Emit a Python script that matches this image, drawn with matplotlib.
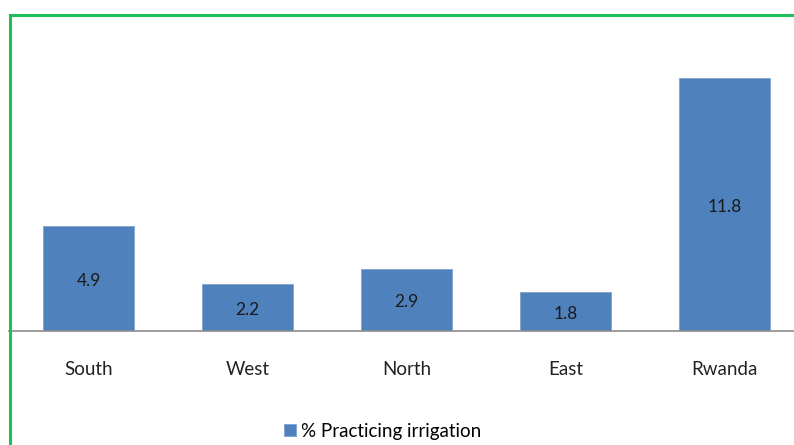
import matplotlib.pyplot as plt
from matplotlib.patches import Rectangle

regions = ["South", "West", "North", "East", "Rwanda"]
irrigation = [4.9, 2.2, 2.9, 1.8, 11.8]
series_name = "% Practicing irrigation"

plt.rcParams['font.family'] = ['Lato', 'DejaVu Sans']

W, H = 794, 445
fig = plt.figure(figsize=(W / 100, H / 100), dpi=100)

# axes: each category 159 px wide, first one starts at x=9, baseline at y=331
ax = fig.add_axes([9 / W, (H - 331) / H, 795 / W, 300 / H])
x = range(len(regions))
bars = ax.bar(x, irrigation, width=0.572, color="#4F81BD", edgecolor="#7FA3D3",
              linewidth=0.6, label=series_name)
ax.set_xlim(-0.5, len(regions) - 0.5)
ax.set_ylim(0, 300 / 21.44)

for xi, v in zip(x, irrigation):
    ax.text(xi, v / 2 - 0.12, f"{v}", ha="center", va="center", fontsize=12.5, color="#1a1a1a")

for s in ["top", "right", "left"]:
    ax.spines[s].set_visible(False)
ax.spines["bottom"].set_color("#8c8c8c")
ax.spines["bottom"].set_linewidth(1.2)
ax.set_yticks([])
ax.set_xticks(list(x))
ax.set_xticklabels(regions, fontsize=13.5, color="#222222")
ax.tick_params(axis="x", length=0, pad=21.5)

leg = fig.legend(loc="center", bbox_to_anchor=(383 / W, (H - 431) / H), frameon=False,
                 fontsize=13.5, handlelength=0.6, handleheight=0.6, handletextpad=0.3)

# green outer border (right/bottom run off the picture)
fig.patches.append(Rectangle((10 / W, -0.1), 1.0, (H - 15) / H + 0.1,
                             transform=fig.transFigure, fill=False,
                             edgecolor="#1CBF5C", linewidth=2.2))

fig.savefig("out.png", dpi=100)
